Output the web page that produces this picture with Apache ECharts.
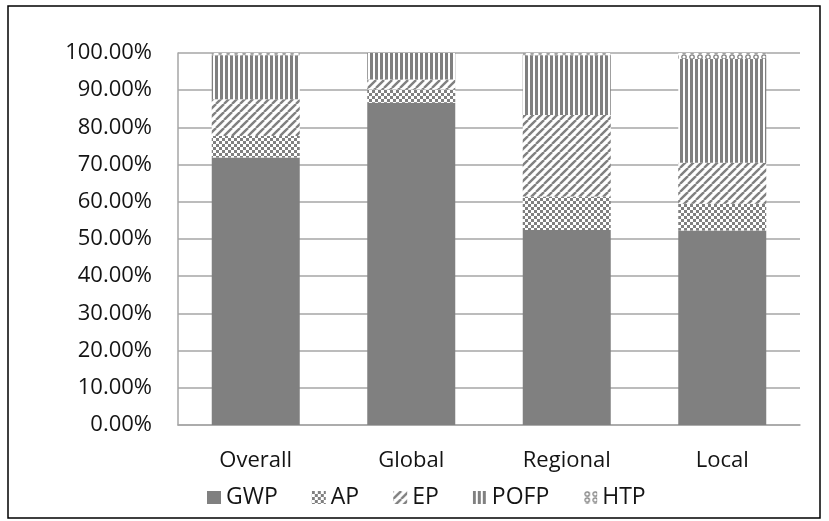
<!DOCTYPE html>
<html>
<head>
<meta charset="utf-8">
<script src="https://cdn.jsdelivr.net/npm/echarts@6/dist/echarts.min.js"></script>
<style>
  html, body { margin: 0; padding: 0; background: #fff; }
  #chart { width: 829px; height: 521px; }
</style>
</head>
<body>
<div id="chart"></div>
<script>
// Impact category shares (%) per scope
const categories = ['Overall', 'Global', 'Regional', 'Local'];
const gwp  = [71.9, 86.6, 52.4, 52.3];
const ap   = [5.8,  3.6,  9.0,  7.2];
const ep   = [9.9,  2.7,  21.9, 11.0];
const pofp = [11.8, 7.1,  16.1, 27.9];
const htp  = [0.6,  0.0,  0.6,  1.6];
const seriesNames = ['GWP', 'AP', 'EP', 'POFP', 'HTP'];
const yTicks = [0, 10, 20, 30, 40, 50, 60, 70, 80, 90, 100];

const GRAY = '#808080';
const AXIS_GRAY = '#a6a6a6';
const TEXT = '#141414';
const FONT = 'Open Sans';

function tile(w, h, draw) {
  const c = document.createElement('canvas');
  c.width = w; c.height = h;
  const ctx = c.getContext('2d');
  ctx.fillStyle = '#fff';
  ctx.fillRect(0, 0, w, h);
  ctx.fillStyle = GRAY;
  ctx.strokeStyle = GRAY;
  draw(ctx);
  return { image: c, repeat: 'repeat' };
}

// checkerboard
const checkFill = tile(6, 6, ctx => {
  ctx.fillRect(0, 0, 3, 3);
  ctx.fillRect(3, 3, 3, 3);
});
// upward diagonal stripes
const diagFill = tile(8, 8, ctx => {
  ctx.lineWidth = 2.4;
  for (let k = -8; k <= 16; k += 8) {
    ctx.beginPath();
    ctx.moveTo(k, 8);
    ctx.lineTo(k + 8, 0);
    ctx.stroke();
  }
});
// vertical stripes
const vertFill = tile(5, 4, ctx => {
  ctx.fillRect(0, 0, 3, 4);
});
// small rings
const ringFill = tile(8, 6, ctx => {
  ctx.lineWidth = 1.3;
  ctx.beginPath();
  ctx.arc(4, 3, 2.2, 0, Math.PI * 2);
  ctx.stroke();
});

const fills = [GRAY, checkFill, diagFill, vertFill, ringFill];
const values = [gwp, ap, ep, pofp, htp];

const chart = echarts.init(document.getElementById('chart'), null, { renderer: 'canvas' });

chart.setOption({
  animation: false,
  backgroundColor: '#fff',
  textStyle: { fontFamily: FONT },
  graphic: [{
    type: 'rect',
    shape: { x: 8, y: 6, width: 812, height: 512 },
    style: { fill: 'none', stroke: '#000', lineWidth: 1.5 },
    silent: true
  }],
  grid: { left: 178, right: 29, top: 53, bottom: 96, containLabel: false },
  legend: {
    top: 486,
    left: 207,
    padding: 0,
    itemWidth: 14,
    itemHeight: 13,
    itemGap: 34,
    icon: 'rect',
    textStyle: { fontFamily: FONT, fontSize: 23, color: TEXT },
    data: seriesNames
  },
  xAxis: {
    type: 'category',
    data: categories,
    axisLine: { show: true, lineStyle: { color: AXIS_GRAY, width: 1.5 } },
    axisTick: { show: false },
    axisLabel: { fontFamily: FONT, fontSize: 22, color: TEXT, margin: 25 }
  },
  yAxis: {
    type: 'value',
    min: yTicks[0],
    max: yTicks[yTicks.length - 1],
    interval: yTicks[1] - yTicks[0],
    axisLine: { show: true, lineStyle: { color: AXIS_GRAY, width: 1.5 } },
    axisTick: { show: false },
    splitLine: { lineStyle: { color: AXIS_GRAY, width: 1.5 } },
    axisLabel: {
      fontFamily: FONT, fontSize: 22, color: TEXT, margin: 26,
      formatter: v => v.toFixed(2) + '%'
    }
  },
  series: seriesNames.map((name, i) => ({
    name,
    type: 'bar',
    stack: 'total',
    barWidth: 88,
    data: values[i],
    itemStyle: { color: fills[i] }
  }))
});
</script>
</body>
</html>
